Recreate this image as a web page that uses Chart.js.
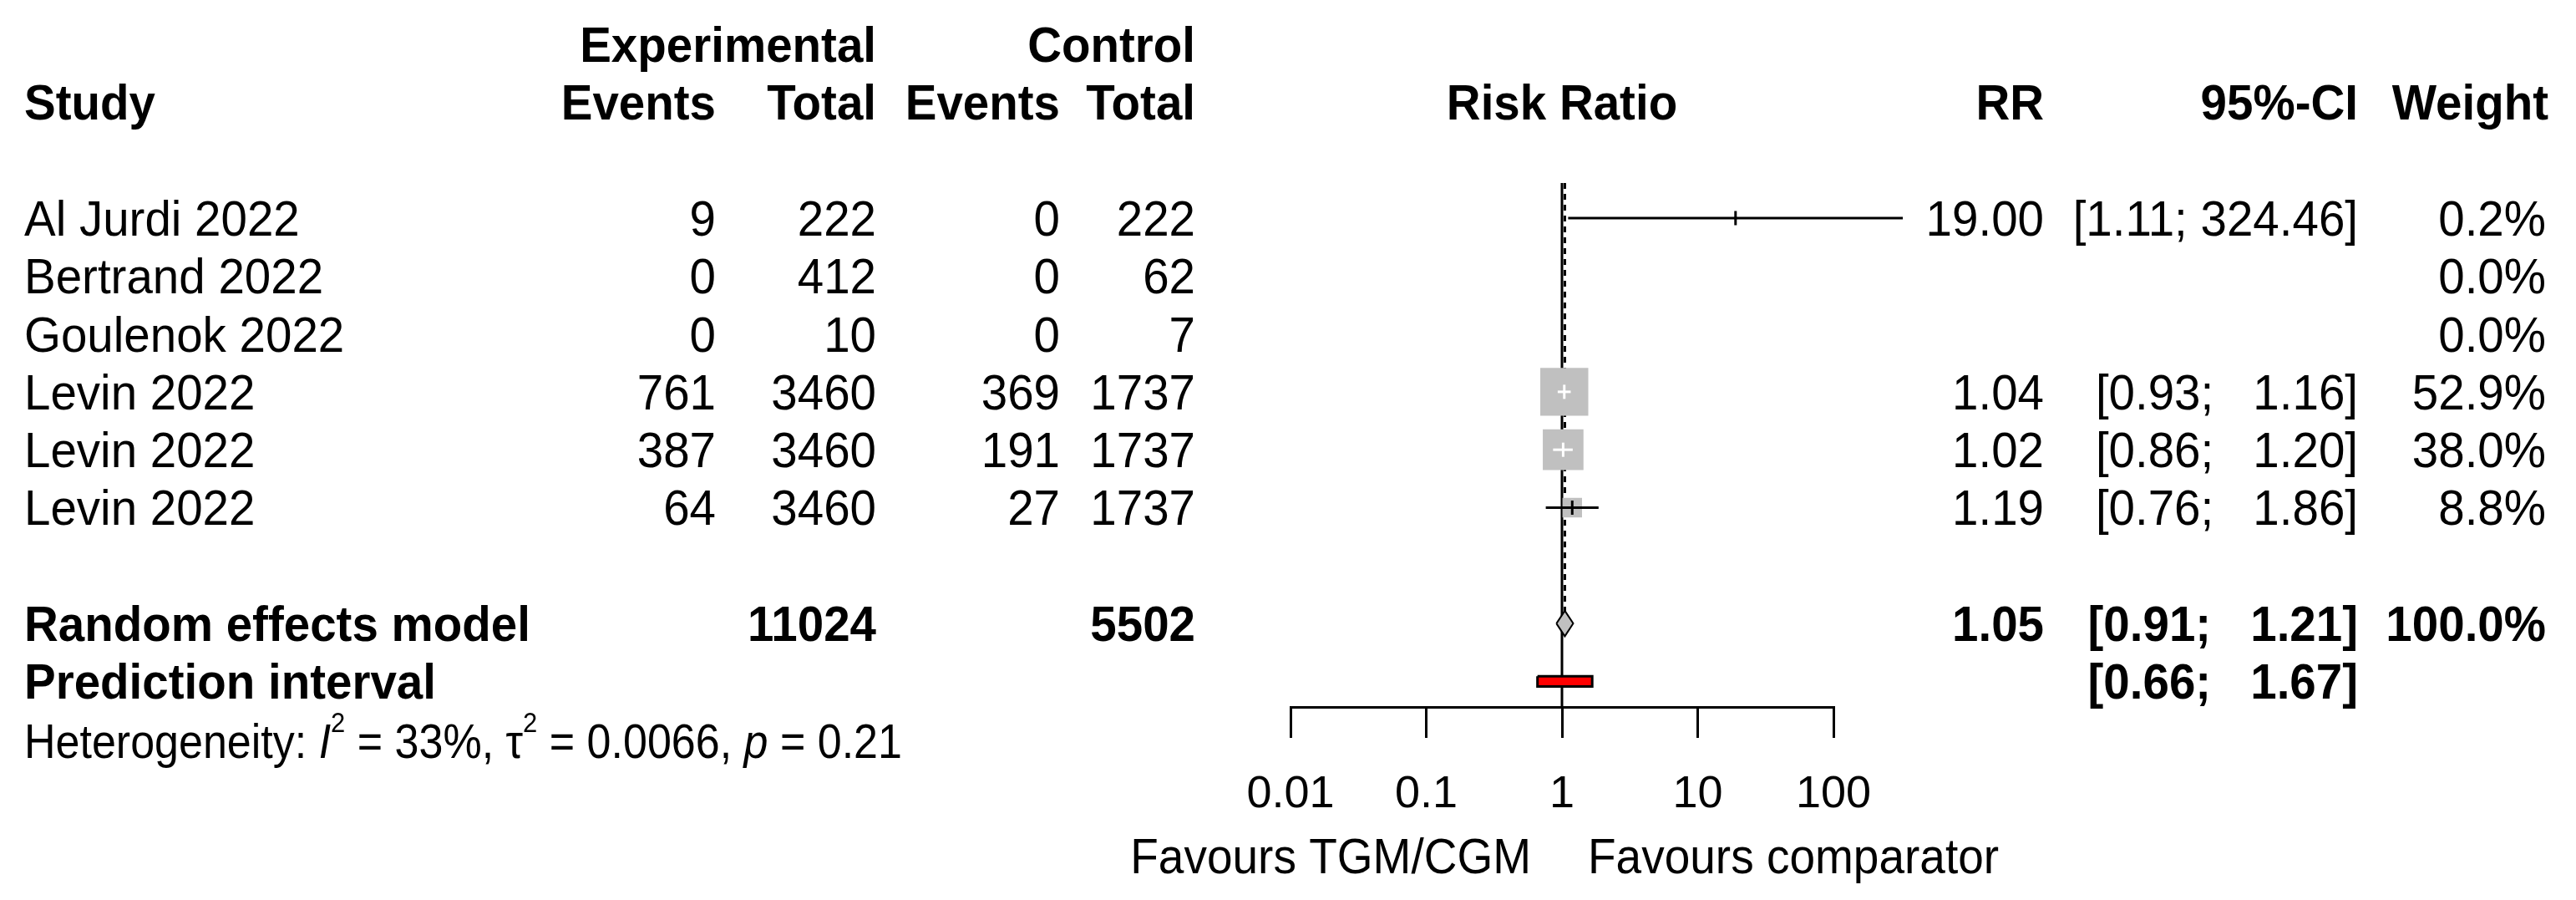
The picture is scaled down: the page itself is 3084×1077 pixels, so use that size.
<!DOCTYPE html>
<html>
<head>
<meta charset="utf-8">
<title>Forest plot</title>
<script src="https://cdn.jsdelivr.net/npm/chart.js@4.4.1/dist/chart.umd.min.js"></script>
<style>
  html, body { margin: 0; padding: 0; background: #fff; }
  #wrap { width: 3084px; height: 1077px; position: relative; }
</style>
</head>
<body>
<div id="wrap"><canvas id="forest"></canvas></div>
<script>
// study level data
const studies = ['Al Jurdi 2022', 'Bertrand 2022', 'Goulenok 2022', 'Levin 2022', 'Levin 2022', 'Levin 2022'];
const expEvents = [9, 0, 0, 761, 387, 64];
const expTotal = [222, 412, 10, 3460, 3460, 3460];
const ctrlEvents = [0, 0, 0, 369, 191, 27];
const ctrlTotal = [222, 62, 7, 1737, 1737, 1737];
const rr = [19.00, null, null, 1.04, 1.02, 1.19];
const ciLower = [1.11, null, null, 0.93, 0.86, 0.76];
const ciUpper = [324.46, null, null, 1.16, 1.20, 1.86];
const weights = [0.2, 0.0, 0.0, 52.9, 38.0, 8.8];

// pooled results
const pooledTotals = [11024, 5502];
const pooledRR = [1.05, 0.91, 1.21];
const predInterval = [0.66, 1.67];
const hetStats = [33, 0.0066, 0.21]; // I2 %, tau2, p

// axis
const xTickValues = [0.01, 0.1, 1, 10, 100];
const xTickLabels = ['0.01', '0.1', '1', '10', '100'];

const FONT = '"Liberation Sans", Arial, Helvetica, sans-serif';
const Y_MIN = -0.606;
const Y_MAX = 8.442;
const RE_ROW = 7, PI_ROW = 8, HET_ROW = 9;

// column anchors (px)
const COL = { study: 29, expEvents: 857, expTotal: 1049, ctrlEvents: 1269, ctrlTotal: 1431, rr: 2447, ci: 2823, weight: 3048 };

const shown = studies.map((_, i) => i).filter(i => rr[i] !== null);
const boxSide = w => 7.9 * Math.sqrt(w);

const ciInsideBox = (chart, i) => {
    const xs = chart.scales.x;
    if (!xs) return false;
    const c = xs.getPixelForValue(rr[i]);
    const half = boxSide(weights[i]) / 2;
    return xs.getPixelForValue(ciLower[i]) >= c - half && xs.getPixelForValue(ciUpper[i]) <= c + half;
};

const fmt2 = v => v.toFixed(2);
const ciText = (lo, hi) => '[' + fmt2(lo) + '; ' + fmt2(hi).padStart(6, ' ') + ']';

const put = (ctx, s, x, y, align, font, stretch = 1.04) => {
    ctx.save();
    ctx.font = font;
    ctx.textAlign = align;
    ctx.textBaseline = 'alphabetic';
    ctx.fillStyle = '#000';
    ctx.translate(x, y);
    ctx.scale(1, stretch);
    ctx.fillText(s, 0, 0);
    ctx.restore();
};

const tablePlugin = {
    id: 'forestTable',
    afterDraw(chart) {
        const ctx = chart.ctx;
        const xs = chart.scales.x;
        const ys = chart.scales.y;
        const base = row => ys.getPixelForValue(row) + 21;
        const reg = '56.5px ' + FONT;
        const bold = 'bold 56.5px ' + FONT;

        // header
        put(ctx, 'Experimental', COL.expTotal, base(-3), 'right', bold);
        put(ctx, 'Control', COL.ctrlTotal, base(-3), 'right', bold);
        put(ctx, 'Study', COL.study, base(-2), 'left', bold);
        put(ctx, 'Events', COL.expEvents, base(-2), 'right', bold);
        put(ctx, 'Total', COL.expTotal, base(-2), 'right', bold);
        put(ctx, 'Events', COL.ctrlEvents, base(-2), 'right', bold);
        put(ctx, 'Total', COL.ctrlTotal, base(-2), 'right', bold);
        put(ctx, 'Risk Ratio', xs.getPixelForValue(1), base(-2), 'center', bold);
        put(ctx, 'RR', COL.rr, base(-2), 'right', bold);
        put(ctx, '95%-CI', COL.ci, base(-2), 'right', bold);
        put(ctx, 'Weight', COL.weight + 3, base(-2), 'right', bold);

        // studies
        studies.forEach((name, i) => {
            const y = base(i);
            put(ctx, name, COL.study, y, 'left', reg);
            put(ctx, String(expEvents[i]), COL.expEvents, y, 'right', reg);
            put(ctx, String(expTotal[i]), COL.expTotal, y, 'right', reg);
            put(ctx, String(ctrlEvents[i]), COL.ctrlEvents, y, 'right', reg);
            put(ctx, String(ctrlTotal[i]), COL.ctrlTotal, y, 'right', reg);
            if (rr[i] !== null) {
                put(ctx, fmt2(rr[i]), COL.rr, y, 'right', reg);
                put(ctx, ciText(ciLower[i], ciUpper[i]), COL.ci, y, 'right', reg);
            }
            put(ctx, weights[i].toFixed(1) + '%', COL.weight, y, 'right', reg);
        });

        // pooled
        let y = base(RE_ROW);
        put(ctx, 'Random effects model', COL.study, y, 'left', bold);
        put(ctx, String(pooledTotals[0]), COL.expTotal, y, 'right', bold);
        put(ctx, String(pooledTotals[1]), COL.ctrlTotal, y, 'right', bold);
        put(ctx, fmt2(pooledRR[0]), COL.rr, y, 'right', bold);
        put(ctx, ciText(pooledRR[1], pooledRR[2]), COL.ci, y, 'right', bold);
        put(ctx, '100.0%', COL.weight, y, 'right', bold);

        y = base(PI_ROW);
        put(ctx, 'Prediction interval', COL.study, y, 'left', bold);
        put(ctx, ciText(predInterval[0], predInterval[1]), COL.ci, y, 'right', bold);

        // heterogeneity line
        y = base(HET_ROW) + 1;
        const het = '52px ' + FONT;
        const sup = '31px ' + FONT;
        let x = COL.study;
        const seg = (s, font, dy = 0) => {
            put(ctx, s, x, y + dy, 'left', font, 1.1);
            ctx.save();
            ctx.font = font;
            x += ctx.measureText(s).width;
            ctx.restore();
        };
        seg('Heterogeneity: ', het);
        seg('I', 'italic ' + het);
        seg('2', sup, -31);
        seg(' = ' + hetStats[0] + '%, ', het);
        seg('\u03c4', het);
        seg('2', sup, -31);
        seg(' = ' + hetStats[1].toFixed(4) + ', ', het);
        seg('p', 'italic ' + het);
        seg(' = ' + hetStats[2].toFixed(2), het);

        // favours labels
        const fav = '55px ' + FONT;
        const mid = xs.getPixelForValue(1);
        put(ctx, 'Favours TGM/CGM', mid - 37, 1045, 'right', fav, 1.07);
        put(ctx, 'Favours comparator', mid + 31, 1045, 'left', fav, 1.07);
    }
};

const datasets = [
    {
        // line of no effect
        data: [{ x: 1, y: Y_MIN }, { x: 1, y: Y_MAX }],
        showLine: true, borderColor: '#000', borderWidth: 3, pointRadius: 0, order: 9
    },
    {
        // pooled estimate
        data: [{ x: pooledRR[0], y: Y_MIN }, { x: pooledRR[0], y: RE_ROW }],
        showLine: true, borderColor: '#000', borderWidth: 3, borderDash: [7, 6], pointRadius: 0, order: 8
    },
    {
        // weight boxes
        data: shown.map(i => ({ x: rr[i], y: i })),
        showLine: false,
        pointStyle: 'rect',
        pointRadius: shown.map(i => boxSide(weights[i]) / (2 * Math.SQRT1_2)),
        pointBackgroundColor: '#c0c0c0',
        pointBorderWidth: 0,
        order: 7
    },
    ...shown.map(i => ({
        // confidence intervals with estimate tick
        data: [{ x: ciLower[i], y: i }, { x: rr[i], y: i }, { x: ciUpper[i], y: i }],
        showLine: true,
        borderWidth: 3,
        borderColor: c => ciInsideBox(c.chart, i) ? '#fff' : '#000',
        pointStyle: 'line',
        pointRotation: 90,
        pointRadius: [0, 8.5, 0],
        pointBorderWidth: 3,
        pointBorderColor: c => ciInsideBox(c.chart, i) ? '#fff' : '#000',
        order: 6
    })),
    {
        // diamond
        data: [
            { x: pooledRR[1], y: RE_ROW }, { x: pooledRR[0], y: RE_ROW - 0.22 },
            { x: pooledRR[2], y: RE_ROW }, { x: pooledRR[0], y: RE_ROW + 0.22 },
            { x: pooledRR[1], y: RE_ROW }
        ],
        showLine: true, fill: 'shape', backgroundColor: '#c0c0c0', borderColor: '#000', borderWidth: 2,
        pointRadius: 0, order: 5
    },
    {
        // prediction interval
        data: [
            { x: predInterval[0], y: PI_ROW - 0.09 }, { x: predInterval[1], y: PI_ROW - 0.09 },
            { x: predInterval[1], y: PI_ROW + 0.09 }, { x: predInterval[0], y: PI_ROW + 0.09 },
            { x: predInterval[0], y: PI_ROW - 0.09 }
        ],
        showLine: true, fill: 'shape', backgroundColor: '#ff0000', borderColor: '#000', borderWidth: 3,
        pointRadius: 0, order: 5
    }
].map(d => Object.assign({ clip: false, tension: 0 }, d));

new Chart(document.getElementById('forest'), {
    type: 'scatter',
    data: { datasets },
    options: {
        responsive: true,
        maintainAspectRatio: false,
        animation: false,
        events: [],
        layout: { padding: { left: 1545, right: 889, top: 219, bottom: 0 } },
        plugins: { legend: { display: false }, tooltip: { enabled: false } },
        scales: {
            x: {
                type: 'logarithmic',
                min: xTickValues[0],
                max: xTickValues[xTickValues.length - 1],
                afterBuildTicks: scale => { scale.ticks = xTickValues.map(v => ({ value: v })); },
                afterFit: scale => { scale.height = 231; },
                border: { display: true, color: '#000', width: 3 },
                grid: { display: true, drawOnChartArea: false, drawTicks: true, tickLength: 37, color: '#000', lineWidth: 3 },
                ticks: {
                    autoSkip: false,
                    maxRotation: 0,
                    padding: 36,
                    color: '#000',
                    font: { family: FONT, size: 54 },
                    callback: (v, i) => xTickLabels[i]
                }
            },
            y: {
                type: 'linear',
                display: false,
                reverse: true,
                min: Y_MIN,
                max: Y_MAX
            }
        }
    },
    plugins: [tablePlugin]
});
</script>
</body>
</html>
